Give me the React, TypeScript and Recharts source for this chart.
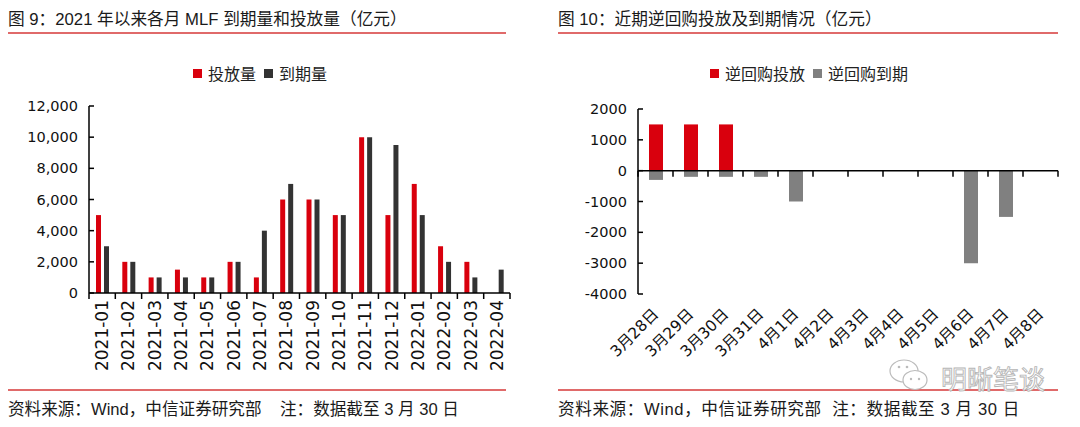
import React from 'react';
import { BarChart, Bar, XAxis, YAxis, ReferenceLine } from 'recharts';

// 图9：MLF 各月投放/到期（亿元）
const MONTHS = [
  '2021-01', '2021-02', '2021-03', '2021-04', '2021-05', '2021-06', '2021-07', '2021-08',
  '2021-09', '2021-10', '2021-11', '2021-12', '2022-01', '2022-02', '2022-03', '2022-04',
];
const MLF_INJECT = [5000, 2000, 1000, 1500, 1000, 2000, 1000, 6000, 6000, 5000, 10000, 5000, 7000, 3000, 2000, 0];
const MLF_MATURE = [3000, 2000, 1000, 1000, 1000, 2000, 4000, 7000, 6000, 5000, 10000, 9500, 5000, 2000, 1000, 1500];
const MLF_TICKS = [0, 2000, 4000, 6000, 8000, 10000, 12000];

// 图10：逆回购投放/到期（亿元）
const DAYS = ['3月28日', '3月29日', '3月30日', '3月31日', '4月1日', '4月2日', '4月3日', '4月4日', '4月5日', '4月6日', '4月7日', '4月8日'];
const RR_INJECT = [1500, 1500, 1500, 0, 0, 0, 0, 0, 0, 0, 0, 0];
const RR_MATURE = [-300, -200, -200, -200, -1000, 0, 0, 0, 0, -3000, -1500, 0];
const RR_TICKS = [-4000, -3000, -2000, -1000, 0, 1000, 2000];

const mlfData = MONTHS.map((m, i) => ({ month: m, inject: MLF_INJECT[i], mature: MLF_MATURE[i] }));
const rrData = DAYS.map((d, i) => ({ day: d, inject: RR_INJECT[i], mature: RR_MATURE[i] }));

const RED = '#d9000d';
const DARK = '#333333';
const GREY = '#808080';
const LINE_RED = '#e06a6a';
const NUM_FONT = "'DejaVu Sans', 'Noto Sans CJK SC', sans-serif";
const CJK_FONT = "'Liberation Sans', 'Noto Sans CJK SC', sans-serif";

// plot geometry (used for boundary tick marks)
const L_PLOT_W = 421;
const R_PLOT_W = 420;
const R_PLOT_H = 185;

const MonthTick = (props: any) => {
  const { x, y, payload, index } = props;
  const half = L_PLOT_W / MONTHS.length / 2;
  return (
    <g>
      <line x1={x - half} y1={y} x2={x - half} y2={y + 6} stroke="#000" strokeWidth={1.5} />
      {index === MONTHS.length - 1 && (
        <line x1={x + half} y1={y} x2={x + half} y2={y + 6} stroke="#000" strokeWidth={1.5} />
      )}
      <text
        x={x}
        y={y + 7}
        transform={`rotate(-90 ${x} ${y + 7})`}
        textAnchor="end"
        dominantBaseline="central"
        fontSize={17}
        fontFamily={NUM_FONT}
        fill="#111"
      >
        {payload.value}
      </text>
    </g>
  );
};

const DayTick = (props: any) => {
  const { x, y, payload, index } = props;
  const half = R_PLOT_W / DAYS.length / 2;
  // zero line sits 4000/6000 of the plot height above the bottom
  const zeroY = y - (R_PLOT_H * 4000) / 6000;
  const tx = x + 4;
  const ty = y + 21;
  return (
    <g>
      <line x1={x - half} y1={zeroY} x2={x - half} y2={zeroY + 6} stroke="#000" strokeWidth={1.5} />
      {index === DAYS.length - 1 && (
        <line x1={x + half} y1={zeroY} x2={x + half} y2={zeroY + 6} stroke="#000" strokeWidth={1.5} />
      )}
      <text
        x={tx}
        y={ty}
        transform={`rotate(-45 ${tx} ${ty})`}
        textAnchor="end"
        fontSize={15.5}
        fontFamily={NUM_FONT}
        fill="#111"
      >
        {payload.value}
      </text>
    </g>
  );
};

const Legend2 = ({ items, left, top }: { items: { label: string; color: string }[]; left: number; top: number }) => (
  <div style={{ position: 'absolute', left, top, display: 'flex', alignItems: 'center', fontSize: 16, fontFamily: CJK_FONT, color: '#222' }}>
    {items.map((it) => (
      <span key={it.label} style={{ display: 'flex', alignItems: 'center', marginRight: 8 }}>
        <span style={{ width: 9, height: 9, background: it.color, display: 'inline-block', marginRight: 6 }} />
        {it.label}
      </span>
    ))}
  </div>
);

const Panel = ({ left, width, title, footer, spacing = 0 }: { left: number; width: number; title: string; footer: string; spacing?: number }) => (
  <>
    <div style={{ position: 'absolute', left, top: 6, fontSize: 16.7, fontFamily: CJK_FONT, color: '#1a1a1a', whiteSpace: 'pre' }}>{title}</div>
    <div style={{ position: 'absolute', left, top: 32, width, height: 1.5, background: LINE_RED }} />
    <div style={{ position: 'absolute', left, top: 389, width, height: 1.5, background: LINE_RED }} />
    <div style={{ position: 'absolute', left, top: 396, fontSize: 16.6, letterSpacing: spacing, fontFamily: CJK_FONT, color: '#1a1a1a', whiteSpace: 'pre' }}>{footer}</div>
  </>
);

const Watermark = () => (
  <svg style={{ position: 'absolute', left: 887, top: 355 }} width={170} height={45}>
    <ellipse cx={17} cy={16} rx={14} ry={11} fill="#fff" stroke="#bbb" strokeWidth={1.2} />
    <ellipse cx={28} cy={25} rx={12} ry={9.5} fill="#fff" stroke="#bbb" strokeWidth={1.2} />
    <circle cx={12} cy={12} r={1.3} fill="#bbb" />
    <circle cx={20} cy={12} r={1.3} fill="#bbb" />
    <circle cx={24} cy={24} r={1.2} fill="#bbb" />
    <circle cx={32} cy={24} r={1.2} fill="#bbb" />
    <text x={54} y={34} fontSize={26} fontFamily="'Noto Sans CJK SC', sans-serif" fill="#fff" stroke="#b5b5b5" strokeWidth={0.9}>
      明晰笔谈
    </text>
  </svg>
);

export default function App() {
  return (
    <div style={{ position: 'absolute', left: 0, top: 0, width: 1080, height: 427, background: '#fff', overflow: 'hidden' }}>
      <Panel left={8} width={498} title="图 9：2021 年以来各月 MLF 到期量和投放量（亿元）" footer="资料来源：Wind，中信证券研究部    注：数据截至 3 月 30 日" />
      <Panel left={558} width={500} spacing={0.6} title="图 10：近期逆回购投放及到期情况（亿元）" footer="资料来源：Wind，中信证券研究部  注：数据截至 3 月 30 日" />

      <Legend2 left={193} top={61} items={[{ label: '投放量', color: RED }, { label: '到期量', color: DARK }]} />
      <Legend2 left={710} top={61} items={[{ label: '逆回购投放', color: RED }, { label: '逆回购到期', color: GREY }]} />

      <div style={{ position: 'absolute', left: 0, top: 95 }}>
        <BarChart width={520} height={300} data={mlfData} margin={{ top: 11, right: 10, bottom: 0, left: 0 }} barSize={5} barGap={3}>
          <XAxis
            dataKey="month"
            interval={0}
            height={102}
            tickSize={0}
            tickMargin={0}
            tickLine={false}
            axisLine={{ stroke: '#000', strokeWidth: 1.5 }}
            tick={<MonthTick />}
          />
          <YAxis
            width={89}
            domain={[0, 12000]}
            ticks={MLF_TICKS}
            tickFormatter={(v: number) => v.toLocaleString('en-US')}
            tickSize={-5}
            tickMargin={16}
            axisLine={{ stroke: '#000', strokeWidth: 1.5 }}
            tickLine={{ stroke: '#000', strokeWidth: 1.5 }}
            tick={{ fontSize: 14.5, fontFamily: NUM_FONT, fill: '#111' }}
          />
          <Bar dataKey="inject" name="投放量" fill={RED} isAnimationActive={false} />
          <Bar dataKey="mature" name="到期量" fill={DARK} isAnimationActive={false} />
        </BarChart>
      </div>

      <div style={{ position: 'absolute', left: 540, top: 95 }}>
        <BarChart width={530} height={300} data={rrData} margin={{ top: 14, right: 12, bottom: 0, left: 0 }} barSize={14} stackOffset="sign">
          <XAxis
            dataKey="day"
            interval={0}
            height={101}
            tickSize={0}
            tickMargin={0}
            tickLine={false}
            axisLine={false}
            tick={<DayTick />}
          />
          <YAxis
            width={98}
            domain={[-4000, 2000]}
            ticks={RR_TICKS}
            tickSize={-5}
            tickMargin={16}
            axisLine={{ stroke: '#000', strokeWidth: 1.5 }}
            tickLine={{ stroke: '#000', strokeWidth: 1.5 }}
            tick={{ fontSize: 14.5, fontFamily: NUM_FONT, fill: '#111' }}
          />
          <Bar dataKey="inject" name="逆回购投放" stackId="rr" fill={RED} isAnimationActive={false} />
          <Bar dataKey="mature" name="逆回购到期" stackId="rr" fill={GREY} isAnimationActive={false} />
          <ReferenceLine y={0} stroke="#000" strokeWidth={1.5} />
        </BarChart>
      </div>

      <Watermark />
    </div>
  );
}
